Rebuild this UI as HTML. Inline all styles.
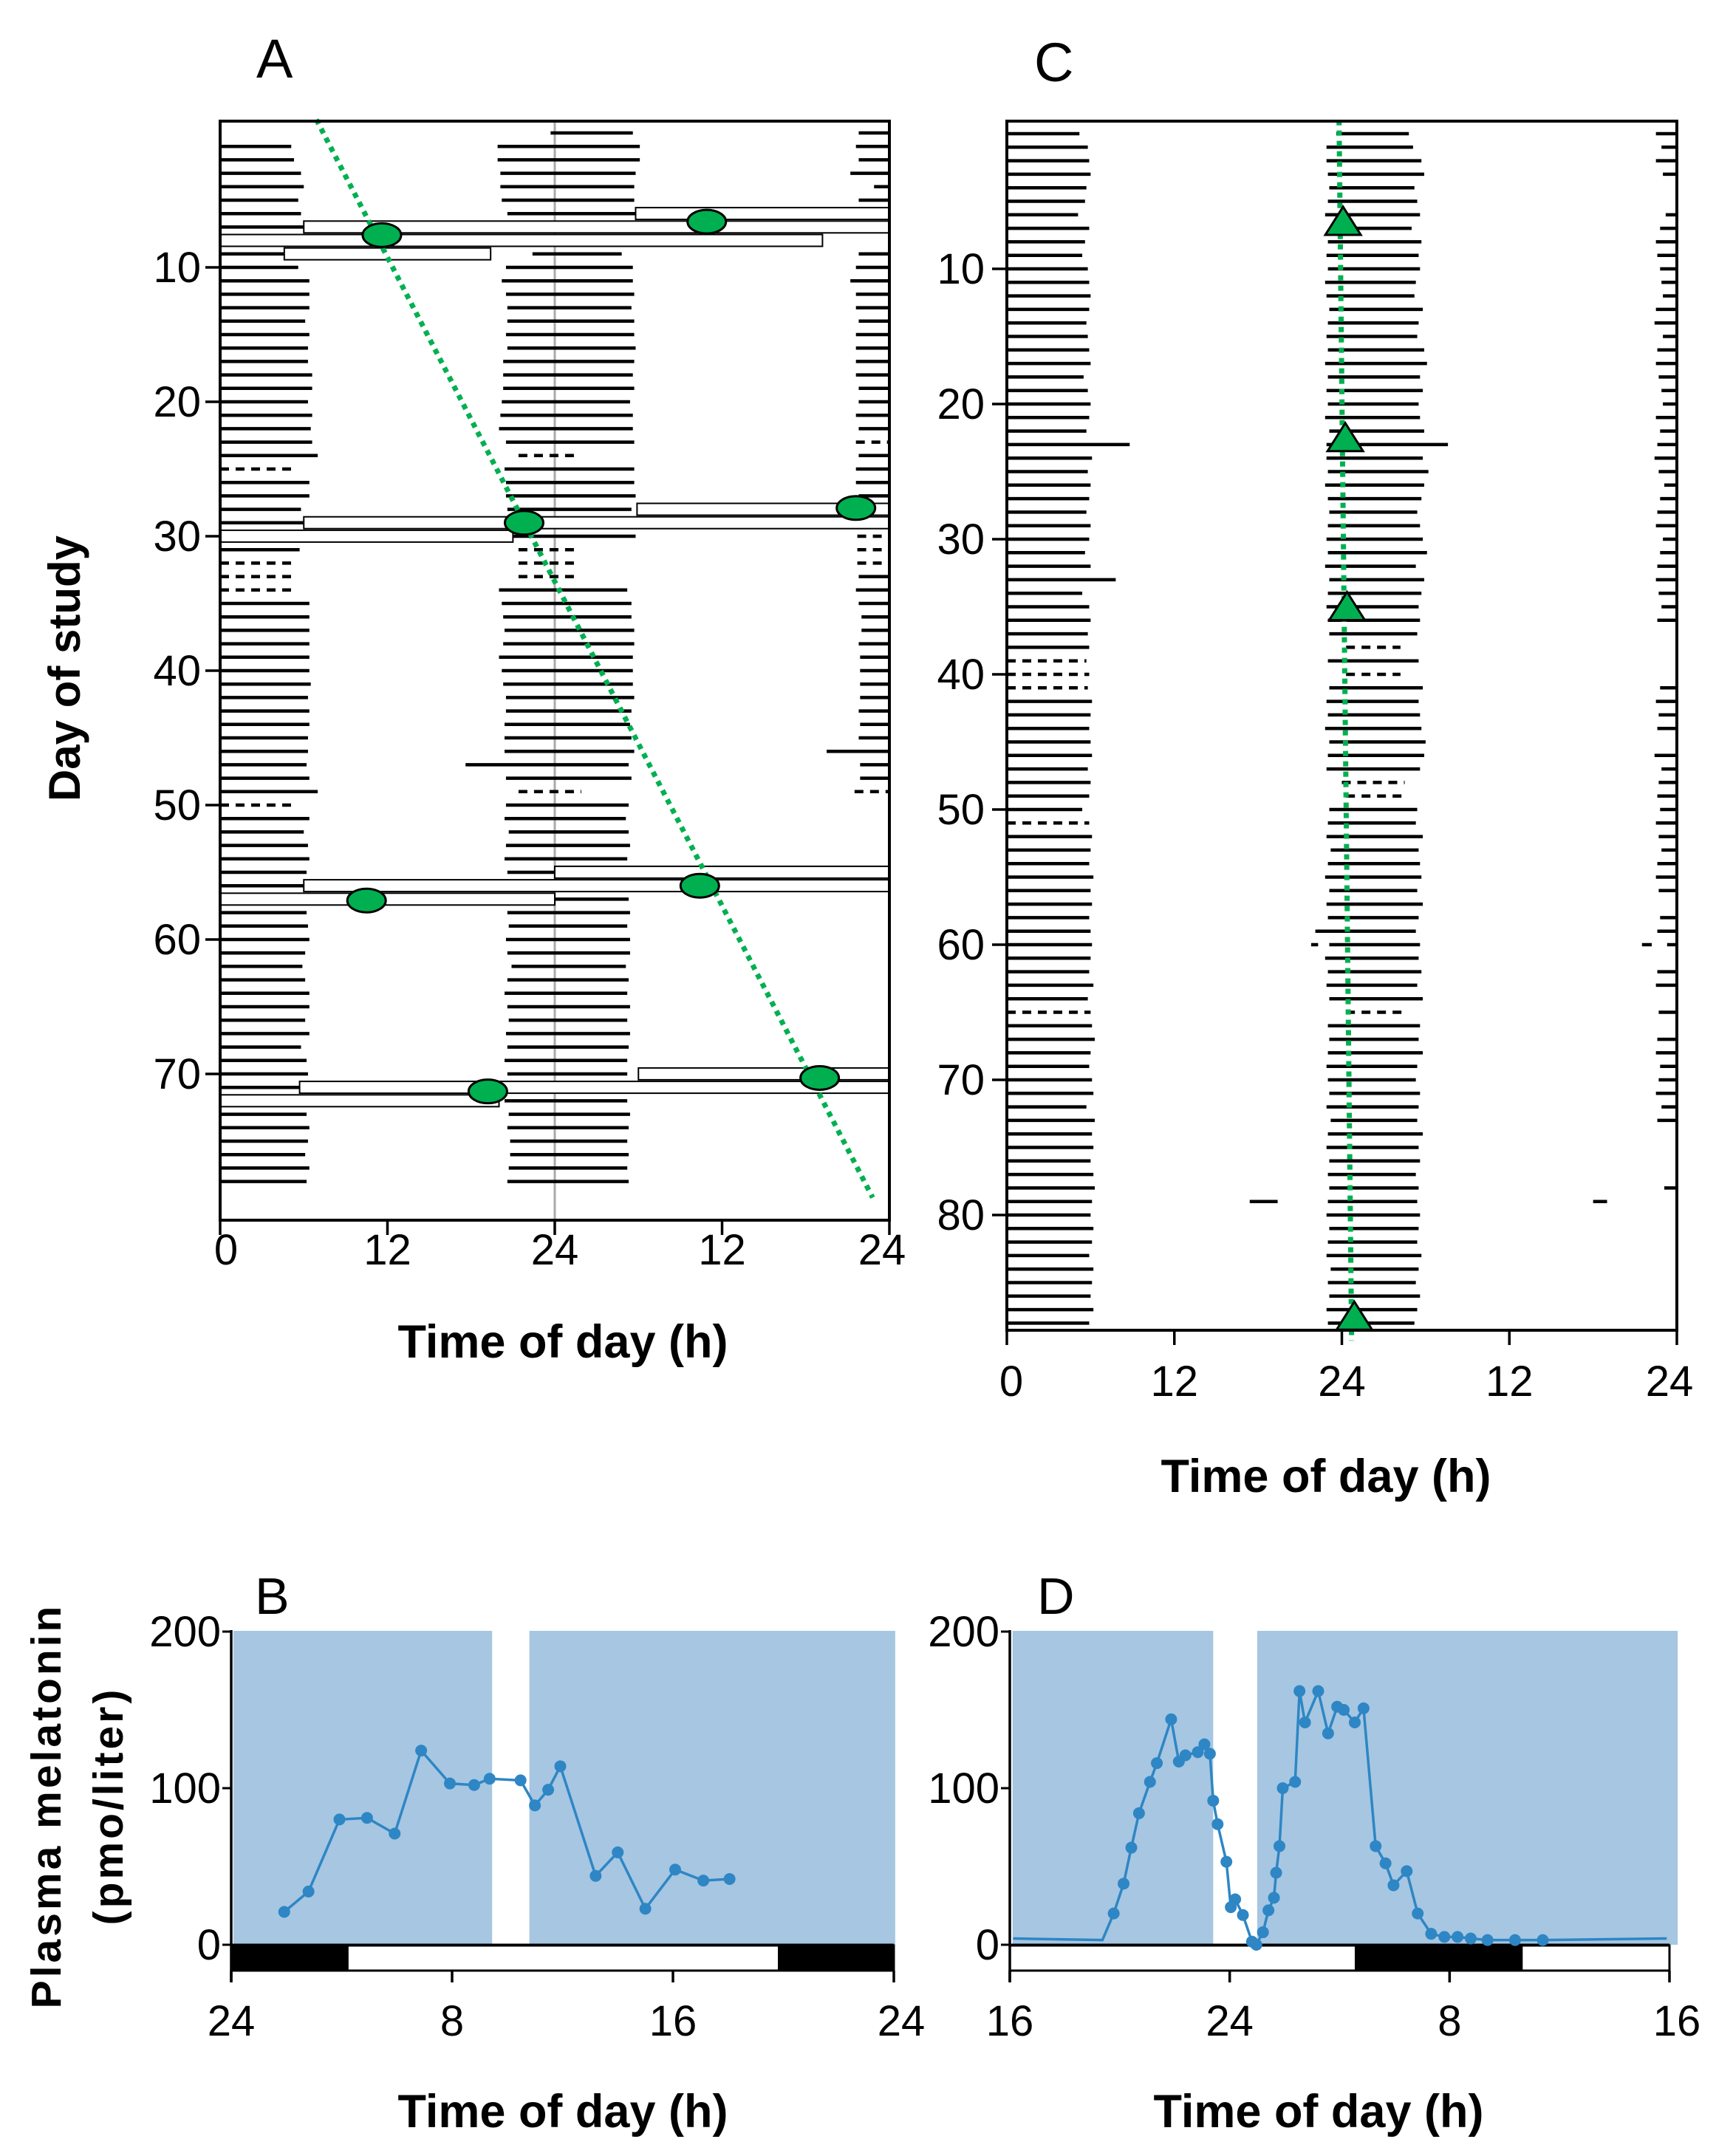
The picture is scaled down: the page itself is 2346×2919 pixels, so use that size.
<!DOCTYPE html>
<html><head><meta charset="utf-8"><style>
html,body{margin:0;padding:0;background:#fff;}
svg{display:block;font-family:"Liberation Sans",sans-serif;}
</style></head><body>
<svg id="fig" width="2346" height="2919" viewBox="0 0 2346 2919">
<g id="gA"></g>
<g id="gC"></g>
<g id="gB"></g>
<g id="gD"></g>
<text x="347" y="105" font-size="74">A</text>
<text x="1400" y="110" font-size="74">C</text>
<text x="345" y="2185" font-size="70">B</text>
<text x="1404" y="2185" font-size="70">D</text>
<text transform="translate(108,905) rotate(-90)" text-anchor="middle" font-size="60" font-weight="bold">Day of study</text>
<text x="762" y="1838" text-anchor="middle" font-size="63" font-weight="bold">Time of day (h)</text>
<text x="1795" y="2020" text-anchor="middle" font-size="63" font-weight="bold">Time of day (h)</text>
<text x="762" y="2880" text-anchor="middle" font-size="63" font-weight="bold">Time of day (h)</text>
<text x="1785" y="2880" text-anchor="middle" font-size="63" font-weight="bold">Time of day (h)</text>
<text transform="translate(82,2445) rotate(-90)" text-anchor="middle" font-size="57" font-weight="bold" letter-spacing="4">Plasma melatonin</text>
<text transform="translate(166,2445) rotate(-90)" text-anchor="middle" font-size="57" font-weight="bold" letter-spacing="4">(pmo/liter)</text>
</svg>
<script>
// ---------- Panel A data (days 0..78, hours double plotted 0..48) ----------
const aLeftEnd=[null,5.1,5.3,5.8,6.0,5.6,5.8,6.0,6.1,5.2,
5.6,6.4,6.4,6.4,6.1,6.4,6.3,6.3,6.6,6.6,
6.3,6.6,6.5,6.6,7.0,5.3,6.4,6.4,5.8,6.4,
6.3,5.7,5.3,5.3,5.3,6.4,6.4,6.4,6.4,6.4,
6.4,6.5,6.3,6.4,6.4,6.3,6.3,6.2,6.4,7.0,
5.3,6.4,6.0,6.3,6.4,6.2,6.2,6.4,6.2,6.3,
6.4,6.1,5.9,6.1,6.4,6.4,6.1,6.4,5.8,6.2,
6.3,6.4,6.2,6.2,6.4,6.3,6.1,6.4,6.2];
const aLeftDash=[25,32,33,34,50];
const aMidStart=[23.7,19.9,19.9,20.1,20.1,20.2,20.6,20.6,22.4,22.4,
20.5,20.2,20.5,20.6,20.6,20.5,20.6,20.3,20.3,20.3,
20.2,20.1,20.0,20.5,21.4,20.4,20.5,20.5,20.6,20.4,
20.4,21.4,21.4,21.4,20.0,20.2,20.3,20.4,20.3,20.0,
20.2,20.3,20.5,20.5,20.4,20.4,20.4,17.6,20.5,21.4,
20.5,20.4,20.7,20.5,20.4,20.6,20.7,20.4,20.6,20.7,
20.5,20.6,20.9,20.6,20.4,20.6,20.7,20.5,20.6,20.4,
20.6,20.6,20.4,20.7,20.6,20.8,20.8,20.7,20.6];
const aMidEnd=[29.6,30.1,30.1,29.8,29.7,29.7,29.8,29.7,28.4,28.8,
29.6,29.6,29.7,29.5,29.7,29.7,29.8,29.7,29.6,29.7,
29.4,29.6,29.6,29.7,25.7,29.7,29.7,29.8,29.5,29.7,
29.8,25.8,25.8,25.8,29.2,29.5,29.5,29.7,29.7,29.6,
29.6,29.6,29.7,29.5,29.4,29.5,29.7,29.3,29.5,25.9,
29.3,29.1,29.3,29.4,29.2,29.4,29.2,29.3,29.4,29.2,
29.4,29.4,29.1,29.3,29.2,29.4,29.2,29.4,29.3,29.2,
29.2,29.3,29.2,29.4,29.3,29.2,29.3,29.2,29.3];
const aMidDash=[24,31,32,33,49];
const aRightStart=[45.8,45.6,45.8,45.2,46.9,45.8,45.8,null,null,45.8,
45.6,45.2,45.6,45.6,45.8,45.6,45.6,45.6,45.6,45.8,
45.8,45.6,45.8,45.6,45.8,45.6,45.6,45.8,45.8,null,
45.7,45.7,45.7,45.8,45.6,45.8,46.0,46.0,45.8,45.9,
45.9,45.9,45.9,45.8,45.9,45.8,43.5,45.9,45.9,45.5];
const aRightDash=[23,30,31,32,49];
const aLabRows=[[6,29.8,48],[7,6.0,48],[8,0,43.2],[9,4.6,19.4],
[28,29.9,48],[29,6.0,48],[30,0,21.0],
[55,24.0,48],[56,6.0,48],[57,0,24.0],
[70,30.0,48],[71,5.7,48],[72,0,20.0]];
const aOvals=[[11.6,7.6],[34.9,6.6],[21.8,29.0],[45.6,27.9],[10.5,57.1],[34.4,56.0],[19.2,71.3],[43.0,70.3]];
const aFit=[[6.9,-1],[46.8,79.2]];
const aYTicks=[10,20,30,40,50,60,70];
const aXTicks=[0,12,24,36,48];
const aXLabels=["0","12","24","12","24"];

// ---------- Panel C data (days 0..88) ----------
const cLeftEnd=[5.2,5.8,5.9,6.0,5.7,5.6,5.1,5.9,5.6,5.4,
5.8,5.9,6.0,5.9,5.7,5.8,5.9,6.0,5.5,5.8,
6.0,5.9,5.7,8.8,6.1,5.8,6.0,5.9,5.7,6.0,
5.9,5.6,6.0,7.8,5.4,5.9,6.0,5.8,5.9,5.7,
5.9,5.8,6.1,6.0,5.9,6.0,6.1,5.8,6.0,5.9,
5.4,5.9,6.1,6.0,5.9,6.2,6.0,6.1,5.9,6.0,
6.1,6.0,5.9,6.2,5.8,6.0,6.1,6.3,6.0,5.9,
6.1,6.2,5.7,6.3,6.1,6.2,6.0,6.2,6.3,6.1,
6.0,6.2,6.1,5.9,6.2,6.1,6.0,6.2,5.9];
const cLeftDash=[39,40,41,51,65];
const cMidStart=[23.6,22.9,22.9,23.0,23.1,23.0,22.8,23.2,23.0,22.9,
23.0,22.8,22.9,23.1,23.0,22.9,23.0,22.8,23.0,22.9,
23.0,22.8,23.1,22.9,22.9,23.0,22.8,23.0,23.1,23.0,
22.9,23.0,22.8,23.1,23.0,22.9,23.0,23.1,24.3,23.0,
24.3,23.1,22.9,23.0,22.8,23.1,23.0,22.9,24.0,24.3,
23.1,23.0,22.9,23.2,23.0,22.8,23.1,22.9,23.0,22.1,
23.1,22.8,23.0,22.9,23.1,24.3,23.0,23.1,23.0,22.9,
23.0,23.1,22.9,23.2,23.0,22.9,23.1,23.0,23.1,23.0,
22.9,23.1,23.0,22.9,23.2,23.0,23.1,22.9,23.0];
const cMidEnd=[28.8,29.1,29.7,29.9,29.2,29.4,29.6,29.0,29.7,29.5,
29.6,29.3,29.2,29.8,29.5,29.4,29.9,30.1,29.6,29.8,
29.5,29.6,29.9,31.6,29.8,30.2,29.9,29.7,29.4,29.6,
29.8,30.1,29.3,29.9,29.7,29.5,29.6,29.4,28.2,29.5,
28.2,29.8,29.5,29.6,29.7,30.0,29.9,29.6,28.5,28.3,
29.4,29.3,29.8,29.5,29.6,29.7,29.4,29.8,29.5,29.3,
29.6,29.5,29.7,29.4,29.8,28.4,29.6,29.5,29.8,29.4,
29.3,29.6,29.5,29.4,29.8,29.5,29.6,29.3,29.5,29.4,
29.6,29.5,29.4,29.7,29.5,29.3,29.6,29.4,29.2];
const cMidDash=[38,40,48,49,65];
const cRightStart=[46.5,46.9,46.5,47.0,null,null,47.2,46.8,46.5,46.6,
46.8,46.9,47.0,46.5,46.4,47.0,46.6,46.5,46.7,46.9,
47.0,46.5,46.8,46.6,46.4,46.7,47.1,46.8,46.6,46.5,
47.0,46.8,46.6,46.5,46.7,46.9,46.6,null,null,null,
null,46.8,46.5,46.7,46.6,null,46.4,46.9,46.7,46.6,
46.8,46.5,46.7,46.9,46.6,46.5,46.7,null,46.8,46.6,
47.3,null,46.6,46.5,null,46.7,null,46.6,46.5,46.8,
46.7,46.5,46.9,46.6,null,null,null,null,47.1,null];
const cExtra=[[79,17.4,19.4],[79,42.0,43.0],[60,21.8,22.3],[60,45.5,46.2]];
const cTriDays=[6.5,22.5,35,87.5];
const cFit=[[23.8,-1],[24.7,89.3]];
const cYTicks=[10,20,30,40,50,60,70,80];

// ---------- Panel B data ----------
const bHours=[1.92,2.80,3.92,4.92,5.92,6.88,7.92,8.80,9.36,10.48,11.0,11.48,11.92,13.2,14.0,15.0,16.08,17.1,18.05];
const bValues=[21,34,80,81,71,124,103,102,106,105,89,99,114,44,59,23,48,41,42];
const bBlue=[[0.08,9.45],[10.8,24.05]];
const bDark=[[0,4.25],[19.8,24]];
const bXTicks=[0,8,16,24];
const bXLabels=["24","8","16","24"];
// ---------- Panel D data (hours since 16:00) ----------
const dHours=[3.78,4.14,4.42,4.70,5.10,5.35,5.87,6.15,6.39,6.84,7.08,7.28,7.40,7.56,7.88,8.04,8.20,8.48,8.81,8.97,9.21,9.41,9.61,9.69,9.81,9.93,10.38,10.54,10.74,11.22,11.58,11.91,12.15,12.55,12.87,13.31,13.67,13.96,14.44,14.84,15.33,15.81,16.29,16.77,17.38,18.38,19.39];
const dValues=[20,39,62,84,104,116,144,117,121,123,128,122,92,77,53,24,29,19,2,0,8,22,30,46,63,100,104,162,142,162,135,152,150,142,151,63,52,38,47,20,7,5,5,4,3,3,3];
const dLineStart=[[0.12,4],[3.37,3]];
const dLineEnd=[[23.9,4]];
const dBlue=[[0.1,7.4],[9.0,24.3]];
const dDark=[[12.55,18.66]];
const dXTicks=[0,8,16,24];
const dXLabels=["16","24","8","16"];
const yTicksMel=[0,100,200];

const NS="http://www.w3.org/2000/svg";
function mk(parent,tag,attrs){const e=document.createElementNS(NS,tag);for(const k in attrs)e.setAttribute(k,attrs[k]);parent.appendChild(e);return e;}
const TF=58;

// ===== Panel A =====
(function(){
const g=document.getElementById('gA');
const x=h=>298+h*906/48, y=d=>180+18.2*d;
const drawBar=(d,h1,h2,dash,name)=>{const l=mk(g,'line',{x1:x(h1),x2:x(h2),y1:y(d),y2:y(d),stroke:'#000','stroke-width':4.5});
if(dash)l.setAttribute('stroke-dasharray','12 9');

};
mk(g,'line',{x1:x(24),x2:x(24),y1:163,y2:1652,stroke:'#aaa','stroke-width':3});
aLeftEnd.forEach((e,d)=>{if(e!==null)drawBar(d,0,e,aLeftDash.includes(d),'activity-bar-left');});
aMidStart.forEach((s,d)=>drawBar(d,s,aMidEnd[d],aMidDash.includes(d),'activity-bar-mid'));
aRightStart.forEach((s,d)=>{if(s!==null)drawBar(d,s,48,aRightDash.includes(d),'activity-bar-right');});
aLabRows.forEach(r=>{const rc=mk(g,'rect',{x:x(r[1]),y:y(r[0]-0.5)+1,width:x(r[2])-x(r[1]),height:16,fill:'#fff',stroke:'#000','stroke-width':2});

});
const f=mk(g,'line',{x1:x(aFit[0][0]),y1:y(aFit[0][1]),x2:x(aFit[1][0]),y2:y(aFit[1][1]),stroke:'#00b050','stroke-width':7,'stroke-dasharray':'7 7'});


aOvals.forEach(o=>{const e=mk(g,'ellipse',{cx:x(o[0]),cy:y(o[1]),rx:26,ry:16,fill:'#00b050',stroke:'#000','stroke-width':3});

});
mk(g,'rect',{x:298,y:164,width:906,height:1488,fill:'none',stroke:'#000','stroke-width':4});
aYTicks.forEach(t=>{mk(g,'line',{x1:278,x2:298,y1:y(t),y2:y(t),stroke:'#000','stroke-width':3.5});
const tx=mk(g,'text',{x:272,y:y(t)+20,'text-anchor':'end','font-size':TF});tx.textContent=t;

});
aXTicks.forEach((t,i)=>{mk(g,'line',{x1:x(t),x2:x(t),y1:1652,y2:1672,stroke:'#000','stroke-width':3.5});
const tx=mk(g,'text',{x:x(t)+(i===0?8:i===4?-10:0),y:1712,'text-anchor':'middle','font-size':TF});tx.textContent=aXLabels[i];

});
})();

// ===== Panel C =====
(function(){
const g=document.getElementById('gC');
const x=h=>1363+h*907/48, y=d=>181+18.3*d;
const drawBar=(d,h1,h2,dash,name)=>{const l=mk(g,'line',{x1:x(h1),x2:x(h2),y1:y(d),y2:y(d),stroke:'#000','stroke-width':4.5});
if(dash)l.setAttribute('stroke-dasharray','12 9');

};
cLeftEnd.forEach((e,d)=>drawBar(d,0,e,cLeftDash.includes(d),'activity-bar-left'));
cMidStart.forEach((s,d)=>drawBar(d,s,cMidEnd[d],cMidDash.includes(d),'activity-bar-mid'));
cRightStart.forEach((s,d)=>{if(s!==null)drawBar(d,s,48,false,'activity-bar-right');});
cExtra.forEach(r=>drawBar(r[0],r[1],r[2],false,'activity-bar-extra'));
const f=mk(g,'line',{x1:x(cFit[0][0]),y1:y(cFit[0][1]),x2:x(cFit[1][0]),y2:y(cFit[1][1]),stroke:'#00b050','stroke-width':7,'stroke-dasharray':'7 7'});


const fx=d=>cFit[0][0]+(cFit[1][0]-cFit[0][0])*(d-cFit[0][1])/(cFit[1][1]-cFit[0][1]);
cTriDays.forEach(d=>{const cx=x(fx(d))+4,cy=y(d);
const p=mk(g,'polygon',{points:`${cx-24},${cy+18} ${cx+24},${cy+18} ${cx},${cy-20}`,fill:'#00b050',stroke:'#000','stroke-width':3});

});
mk(g,'rect',{x:1363,y:164,width:907,height:1637,fill:'none',stroke:'#000','stroke-width':4});
cYTicks.forEach(t=>{mk(g,'line',{x1:1343,x2:1363,y1:y(t),y2:y(t),stroke:'#000','stroke-width':3.5});
const tx=mk(g,'text',{x:1333,y:y(t)+20,'text-anchor':'end','font-size':TF});tx.textContent=t;

});
aXTicks.forEach((t,i)=>{mk(g,'line',{x1:x(t),x2:x(t),y1:1801,y2:1821,stroke:'#000','stroke-width':3.5});
const tx=mk(g,'text',{x:x(t)+(i===0?6:i===4?-10:0),y:1890,'text-anchor':'middle','font-size':TF});tx.textContent=aXLabels[i];

});
})();

// ===== Melatonin panels =====
function melPanel(gid,x0,x1,hours,vals,blue,dark,ticks,labels,pre,post){
const g=document.getElementById(gid);
const x=h=>x0+h*(x1-x0)/24, y=v=>2633-v*2.12;
blue.forEach(b=>{const r=mk(g,'rect',{x:x(b[0]),y:2208,width:x(b[1])-x(b[0]),height:425,fill:'#a6c6e2'});

});
mk(g,'rect',{x:x0,y:2634,width:x1-x0,height:34,fill:'#fff',stroke:'#000','stroke-width':3});
dark.forEach(b=>{const r=mk(g,'rect',{x:x(b[0]),y:2634,width:x(b[1])-x(b[0]),height:34,fill:'#000'});

});
mk(g,'line',{x1:x0,x2:x1,y1:2633,y2:2633,stroke:'#000','stroke-width':3});
mk(g,'line',{x1:x0,x2:x0,y1:2207,y2:2683,stroke:'#000','stroke-width':3.5});
yTicksMel.forEach(t=>{mk(g,'line',{x1:x0-12,x2:x0,y1:y(t),y2:y(t),stroke:'#000','stroke-width':3});
const tx=mk(g,'text',{x:x0-14,y:y(t)+20,'text-anchor':'end','font-size':TF});tx.textContent=t;

});
ticks.forEach((t,i)=>{mk(g,'line',{x1:x(t),x2:x(t),y1:2668,y2:2684,stroke:'#000','stroke-width':3.5});
const tx=mk(g,'text',{x:x(t)+(i===ticks.length-1?10:0),y:2756,'text-anchor':'middle','font-size':TF});tx.textContent=labels[i];

});
const pts=pre.concat(hours.map((h,i)=>[h,vals[i]])).concat(post);
const pl=mk(g,'polyline',{points:pts.map(p=>x(p[0])+','+y(p[1])).join(' '),fill:'none',stroke:'#2e86c4','stroke-width':3.5});


hours.forEach((h,i)=>{const c=mk(g,'circle',{cx:x(h),cy:y(vals[i]),r:8,fill:'#2e86c4'});

});
}
melPanel('gB',313,1210,bHours,bValues,bBlue,bDark,bXTicks,bXLabels,[],[]);
melPanel('gD',1367,2260,dHours,dValues,dBlue,dDark,dXTicks,dXLabels,dLineStart,dLineEnd);
</script>
</body></html>
